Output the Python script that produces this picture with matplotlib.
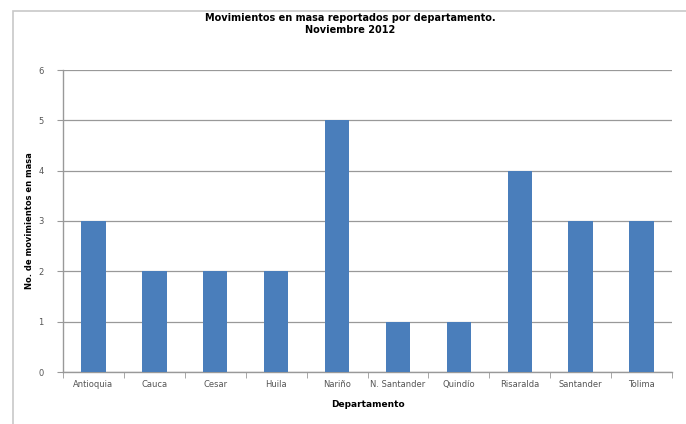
import numpy as np
import matplotlib.pyplot as plt
from matplotlib.patches import Rectangle

departamentos = ['Antioquia', 'Cauca', 'Cesar', 'Huila', 'Nariño', 'N. Santander',
                 'Quindío', 'Risaralda', 'Santander', 'Tolima']
movimientos = [3, 2, 2, 2, 5, 1, 1, 4, 3, 3]
yticks = [0, 1, 2, 3, 4, 5, 6]

fig = plt.figure(figsize=(6.86, 4.24), dpi=100)
ax = fig.add_axes([63/686, 1-372/424, (672-63)/686, (372-70)/424])

# chart border like the spreadsheet frame
fig.patches.append(Rectangle((13/686, -0.01), 1.0, 1-11/424+0.01, transform=fig.transFigure,
                             fill=False, edgecolor='#c8c8c8', linewidth=1.2))

x = np.arange(len(departamentos))
ax.bar(x, movimientos, width=0.4, color='#4a7ebb', zorder=3)

ax.set_xlim(-0.5, len(departamentos) - 0.5)
ax.set_ylim(0, 6)
ax.set_yticks(yticks)
ax.yaxis.grid(True, color='#999999', linewidth=0.9, zorder=0)
ax.set_xticks(x)
ax.set_xticklabels(departamentos)
ax.set_xticks(np.arange(-0.5, len(departamentos)), minor=True)
ax.tick_params(axis='x', which='major', length=0, labelsize=6, colors='#555555', pad=6)
ax.tick_params(axis='x', which='minor', length=4, color='#999999', direction='out')
ax.tick_params(axis='y', length=4, labelsize=6, colors='#555555', color='#999999', pad=10)

for s in ['top', 'right']:
    ax.spines[s].set_visible(False)
for s in ['left', 'bottom']:
    ax.spines[s].set_color('#999999')
    ax.spines[s].set_linewidth(1.0)

fig.text(350/686, 1-24/424, 'Movimientos en masa reportados por departamento.\nNoviembre 2012',
         ha='center', va='center', fontsize=7, fontweight='bold', linespacing=1.3)
ax.set_xlabel('Departamento', fontsize=6.5, fontweight='bold', labelpad=8)
ax.set_ylabel('No. de movimientos en masa', fontsize=6, fontweight='bold', labelpad=3)

plt.savefig('out.png', dpi=100)
